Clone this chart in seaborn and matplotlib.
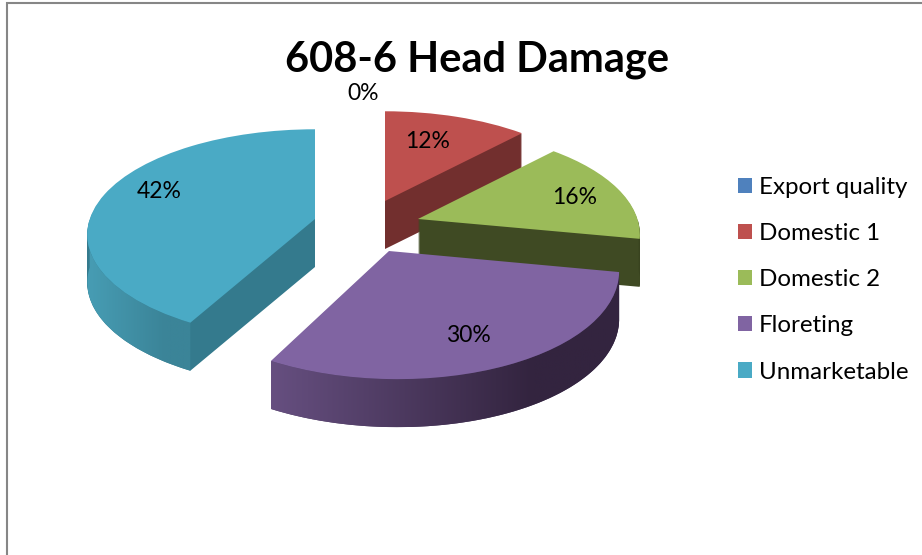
import numpy as np
import matplotlib
matplotlib.use("Agg")
import matplotlib.pyplot as plt
import seaborn as sns
from matplotlib.patches import Polygon
from matplotlib.transforms import Affine2D, Transform

# Data
categories = ["Export quality", "Domestic 1", "Domestic 2", "Floreting", "Unmarketable"]
percents = [0, 12, 16, 30, 42]
title = "608-6 Head Damage"

# Colours
top_colors = ["#4F81BD", "#BE504E", "#9BBB59", "#8064A2", "#4AAAC5"]
cut_colors = ["#2C4A70", "#722F2E", "#3F4A23", "#4A3A5E", "#347A8D"]
rim_left = ["#2C4A70", "#722F2E", "#3F4A23", "#664F80", "#479DB4"]
rim_right = ["#2C4A70", "#722F2E", "#333D1C", "#33243F", "#3B8498"]

# Layout, in picture pixels
apex_x = [384, 385, 418, 389, 315]
apex_y = [201, 201, 219, 251, 219]
scale_x = [1, 0.96, 0.95, 0.98, 0.975]
scale_y = [1, 1, 1, 1.06, 1]
shear = [0, 0, 0, 0.07, 0]
label_x = [363, 428, 575, 468, 159]
label_y = [94, 141, 197, 336, 192]
depth = 48
draw_order = [0, 1, 2, 4, 3]


class Tilt(Transform):
    # perspective of the pie plane, near edge comes out bigger
    input_dims = 2
    output_dims = 2

    def transform_non_affine(self, xy):
        xy = np.asarray(xy, dtype=float)
        w = 1 + 0.148 * xy[:, 1]
        return np.column_stack([231 * xy[:, 0] / w, -103 * xy[:, 1] / w])


sns.set_theme(style="white")
plt.rcParams["font.family"] = ["Lato", "DejaVu Sans"]
palette = sns.color_palette(top_colors)

fig = plt.figure(figsize=(9.22, 5.55), dpi=100)
ax = fig.add_axes([0, 0, 1, 1])
tilt = Tilt()
flat = dict(linewidth=0, edgecolor="none")


def slice_shift(i, drop=0):
    return Affine2D.from_values(scale_x[i], 0, shear[i], scale_y[i], apex_x[i], apex_y[i] + drop)


def place(wedge, i, drop=0):
    wedge.set_transform(tilt + slice_shift(i, drop) + ax.transData)


top_wedges, _ = ax.pie(percents, colors=palette, startangle=90, counterclock=False, wedgeprops=flat)

for n, i in enumerate(draw_order):
    base = 2 + n
    # body of the slice, stacked copies going down
    for drop in range(depth, 0, -1):
        layer, _ = ax.pie(percents, colors=[cut_colors[i]] * 5, startangle=90,
                          counterclock=False, wedgeprops=flat)
        for k, w in enumerate(layer):
            if k == i:
                place(w, i, drop)
                w.set_zorder(base)
            else:
                w.remove()

    # rim on the front of the arc, shaded left to right
    w = top_wedges[i]
    ang = np.radians(np.linspace(w.theta1, w.theta2, 120))
    ang = ang[np.sin(ang) <= 0]
    if len(ang) > 1:
        pts = tilt.transform_non_affine(np.column_stack([np.cos(ang), np.sin(ang)]))
        pts = slice_shift(i).transform(pts)
        low = pts + [0, depth]
        poly = np.vstack([pts, low[::-1]])
        x0, x1 = poly[:, 0].min(), poly[:, 0].max()
        y0, y1 = poly[:, 1].min(), poly[:, 1].max()
        c0 = np.array(matplotlib.colors.to_rgb(rim_left[i]))
        c1 = np.array(matplotlib.colors.to_rgb(rim_right[i]))
        f = np.clip(np.linspace(0, 1, 200) / 0.75, 0, 1)[None, :, None]
        shade = c0 + (c1 - c0) * f
        im = ax.imshow(shade, extent=(x0, x1, y1, y0), aspect="auto", zorder=base + 0.3)
        im.set_clip_path(Polygon(poly, closed=True, transform=ax.transData))

    place(w, i)
    w.set_zorder(base + 0.6)

for i, p in enumerate(percents):
    ax.text(label_x[i], label_y[i], f"{p}%", fontsize=16.5, color="black",
            ha="center", va="center", zorder=20)

ax.text(477, 60, title, fontsize=30, fontweight="bold", color="black",
        ha="center", va="center", zorder=20)

leg = ax.legend(top_wedges, categories, loc="upper left", bbox_to_anchor=(738, 177),
                bbox_transform=ax.transData, frameon=False, fontsize=17.4, borderpad=0,
                borderaxespad=0, handlelength=0.58, handleheight=0.58, handletextpad=0.27,
                labelspacing=1.04, labelcolor="black")

# chart frame
ax.plot([7, 7, 922], [555, 3, 3], color="#868686", lw=1.5, zorder=30, solid_joinstyle="miter")

ax.set_aspect("auto")
ax.set_xlim(0, 922)
ax.set_ylim(555, 0)
ax.axis("off")
fig.savefig("out.png", dpi=100, facecolor="white")
